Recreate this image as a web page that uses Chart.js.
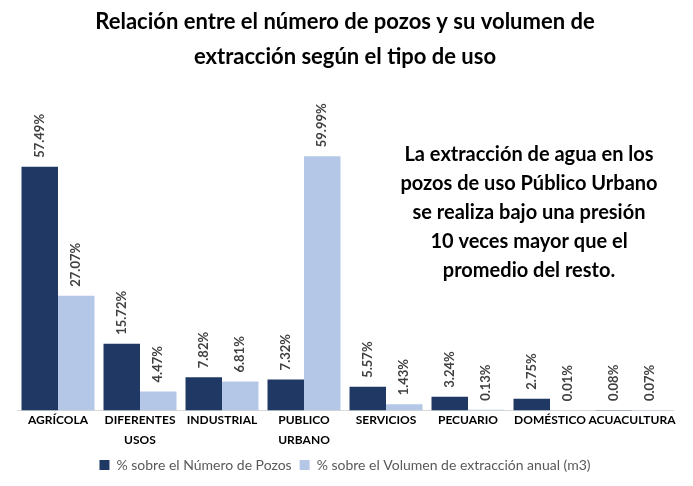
<!DOCTYPE html>
<html>
<head>
<meta charset="utf-8">
<script src="https://cdn.jsdelivr.net/npm/chart.js@4.4.1/dist/chart.umd.min.js"></script>
<style>
  html, body { margin: 0; padding: 0; background: #fff; }
  #wrap { width: 693px; height: 486px; position: relative; }
</style>
</head>
<body>
<div id="wrap"><canvas id="grafico" width="693" height="486"></canvas></div>
<script>
const categorias = ["AGRÍCOLA", ["DIFERENTES", "USOS"], "INDUSTRIAL", ["PUBLICO", "URBANO"], "SERVICIOS", "PECUARIO", "DOMÉSTICO", "ACUACULTURA"];
const pozos = [57.49, 15.72, 7.82, 7.32, 5.57, 3.24, 2.75, 0.08];
const volumen = [27.07, 4.47, 6.81, 59.99, 1.43, 0.13, 0.01, 0.07];
const titulo = ["Relación entre el número de pozos y su volumen de", "extracción según el tipo de uso"];
const nota = ["La extracción de agua en los", "pozos de uso Público Urbano", "se realiza bajo una presión", "10 veces mayor que el", "promedio del resto."];

const fuente = "Lato, 'Open Sans', sans-serif";

// etiquetas giradas encima de cada barra
const etiquetas = {
  id: "etiquetas",
  afterDatasetsDraw(chart) {
    const ctx = chart.ctx;
    ctx.save();
    ctx.font = "bold 13px " + fuente;
    ctx.fillStyle = "#404040";
    ctx.textAlign = "left";
    ctx.textBaseline = "middle";
    chart.data.datasets.forEach((ds, i) => {
      chart.getDatasetMeta(i).data.forEach((bar, j) => {
        ctx.save();
        ctx.translate(bar.x, bar.y - 9);
        ctx.rotate(-Math.PI / 2);
        ctx.fillText(ds.data[j].toFixed(2) + "%", 0, 0);
        ctx.restore();
      });
    });
    ctx.restore();
  }
};

// texto de la nota a la derecha
const notaPlugin = {
  id: "nota",
  afterDraw(chart) {
    const ctx = chart.ctx;
    ctx.save();
    ctx.font = "bold 20px " + fuente;
    ctx.fillStyle = "#000";
    ctx.textAlign = "center";
    ctx.textBaseline = "middle";
    nota.forEach((t, i) => ctx.fillText(t, 529, 155 + i * 29));
    ctx.restore();
  }
};

new Chart(document.getElementById("grafico"), {
  type: "bar",
  data: {
    labels: categorias,
    datasets: [
      {
        label: "% sobre el Número de Pozos",
        data: pozos,
        backgroundColor: "#203864",
        borderColor: "#203864",
        borderWidth: 0
      },
      {
        label: "% sobre el Volumen de extracción anual (m3)",
        data: volumen,
        backgroundColor: "#B4C7E7",
        borderColor: "#B4C7E7",
        borderWidth: 0
      }
    ]
  },
  options: {
    responsive: false,
    animation: false,
    devicePixelRatio: 1,
    layout: { padding: { left: 17, right: 20, top: 0, bottom: 4 } },
    datasets: {
      bar: { categoryPercentage: 0.89, barPercentage: 1 }
    },
    plugins: {
      title: {
        display: true,
        text: titulo,
        color: "#000",
        font: { family: fuente, size: 22, weight: "bold", lineHeight: 1.6 },
        padding: { top: 4, bottom: 28 }
      },
      legend: {
        position: "bottom",
        labels: {
          color: "#595959",
          font: { family: fuente, size: 14 },
          boxWidth: 10,
          boxHeight: 10,
          padding: 8
        }
      },
      tooltip: { enabled: false }
    },
    scales: {
      x: {
        grid: { display: false, drawTicks: false },
        border: { color: "#D9D9D9", width: 1 },
        ticks: {
          color: "#000",
          font: { family: fuente, size: 12, weight: "bold", lineHeight: 1.65 },
          maxRotation: 0,
          autoSkip: false,
          padding: 0
        }
      },
      y: {
        display: false,
        min: 0,
        max: 72.7
      }
    }
  },
  plugins: [etiquetas, notaPlugin]
});
</script>
</body>
</html>
